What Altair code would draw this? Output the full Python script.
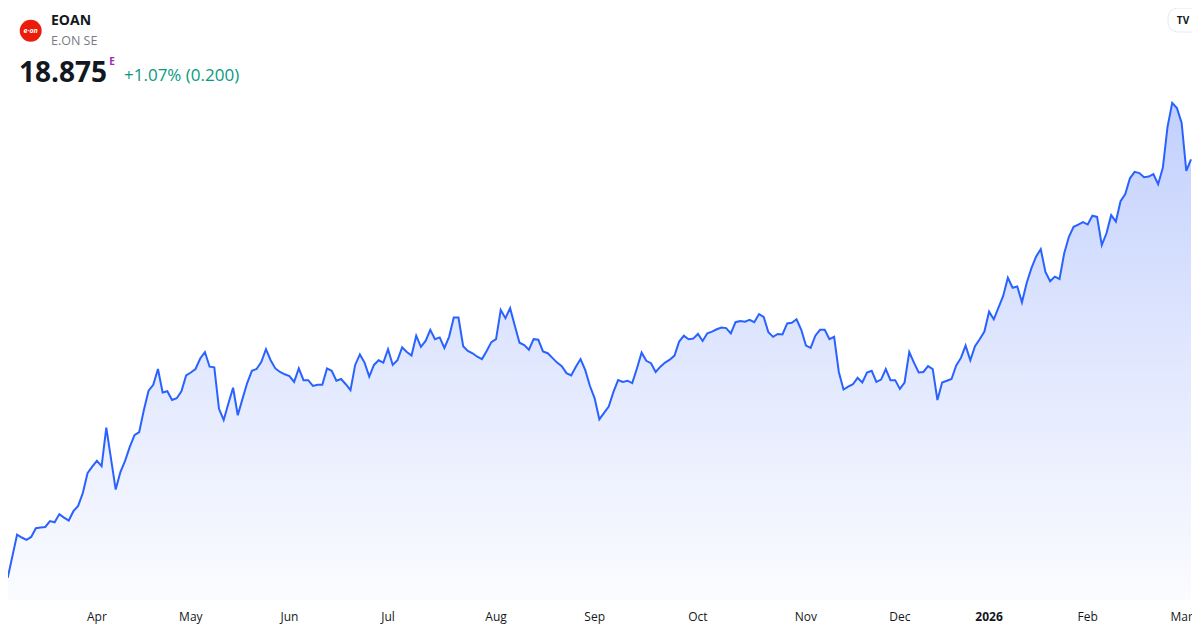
import altair as alt
import pandas as pd

# Daily closes, E.ON SE (EOAN), 4 Mar 2025 .. 4 Mar 2026 (trading-day index)
prices = [
    12.01, 11.72, 12.09, 12.46, 12.41, 12.37, 12.42, 12.57, 12.58, 12.59,
    12.69, 12.67, 12.81, 12.75, 12.70, 12.86, 12.95, 13.17, 13.51, 13.62,
    13.72, 13.63, 14.29, 13.76, 13.23, 13.53, 13.72, 13.96, 14.16, 14.21,
    14.59, 14.92, 15.02, 15.29, 14.89, 14.91, 14.76, 14.79, 14.91, 15.18,
    15.23, 15.29, 15.47, 15.58, 15.33, 15.32, 14.61, 14.42, 14.70, 14.97,
    14.50,
    14.78, 15.05, 15.26, 15.29, 15.41, 15.63, 15.44, 15.30, 15.24, 15.20,
    15.17, 15.07, 15.30, 15.10, 15.10, 15.00, 15.02, 15.02, 15.30, 15.26,
    15.09, 15.12, 15.03, 14.93, 15.36, 15.54, 15.40, 15.16, 15.36, 15.44,
    15.40, 15.63, 15.36, 15.44, 15.66, 15.58, 15.52, 15.86, 15.67, 15.77,
    15.96, 15.80, 15.83, 15.65, 15.84, 16.17, 16.17, 15.68, 15.60, 15.56,
    15.50,
    15.46, 15.60, 15.75, 15.80, 16.30, 16.16, 16.33, 16.03, 15.74, 15.70,
    15.62, 15.80, 15.79, 15.59, 15.56, 15.48, 15.40, 15.34, 15.22, 15.18,
    15.33, 15.46, 15.27, 15.00, 14.79, 14.43, 14.54, 14.65, 14.90, 15.10,
    15.07, 15.09, 15.05, 15.30, 15.57, 15.43, 15.39, 15.24, 15.33, 15.40,
    15.45, 15.52, 15.76, 15.86, 15.80, 15.81, 15.89, 15.77, 15.90, 15.93,
    15.97,
    16.00, 15.99, 15.90, 16.09, 16.11, 16.10, 16.13, 16.09, 16.23, 16.18,
    15.92, 15.84, 15.89, 15.88, 16.07, 16.08, 16.14, 15.96, 15.69, 15.65,
    15.86, 15.96, 15.96, 15.80, 15.84, 15.24, 14.94, 14.99, 15.03, 15.14,
    15.06, 15.23, 15.26, 15.07, 15.11, 15.29, 15.10, 15.10, 14.95, 15.06,
    15.58, 15.40, 15.23, 15.24, 15.34, 15.29, 14.76, 15.06, 15.09, 15.12,
    15.35,
    15.48, 15.69, 15.44, 15.68, 15.80, 15.93, 16.27, 16.14, 16.34, 16.54,
    16.85, 16.68, 16.70, 16.43, 16.76, 17.01, 17.21, 17.34, 16.95, 16.79,
    16.87, 16.83, 17.27, 17.55, 17.72, 17.76, 17.80, 17.76, 17.91, 17.89,
    17.41, 17.61, 17.92, 17.81, 18.16, 18.28, 18.55, 18.66, 18.64, 18.57,
    18.58, 18.62, 18.45, 18.73, 19.43, 19.84, 19.75, 19.50, 18.675, 18.875,
]
day_index = list(range(len(prices)))

# Month ticks (trading-day index of first session of each month)
tick_idx = [20, 40, 61, 82, 105, 126, 148, 171, 191, 210, 231, 251]
tick_labels = ["Apr", "May", "Jun", "Jul", "Aug", "Sep", "Oct", "Nov", "Dec", "2026", "Feb", "Mar"]
tick_bold = [lbl == "2026" for lbl in tick_labels]

symbol = "EOAN"
name = "E.ON SE"
last_price = "18.875"
change_text = "+1.07% (0.200)"

FONT = "Open Sans"
W, H = 1184, 620
Y_LO, Y_HI = 11.342, 21.461

df = pd.DataFrame({"idx": day_index, "price": prices})
ticks = pd.DataFrame({"idx": tick_idx, "label": tick_labels, "bold": tick_bold})

xscale = alt.Scale(domain=[1.065, 253], range=[0, 1183], nice=False, zero=False)
yscale = alt.Scale(domain=[Y_LO, Y_HI], range=[592, 0], nice=False, zero=False)

X = alt.X("idx:Q", scale=xscale, axis=None)
Y = alt.Y("price:Q", scale=yscale, axis=None)

grad = alt.Gradient(
    gradient="linear",
    stops=[
        alt.GradientStop(color="#c2d0fc", offset=0),
        alt.GradientStop(color="#e3e9fe", offset=0.55),
        alt.GradientStop(color="#fbfcff", offset=1),
    ],
    x1=0, x2=0, y1=0, y2=1,
)

base = alt.Chart(df)
area = base.mark_area(clip=True, fill=grad, opacity=1, strokeWidth=0).encode(
    x=X, y=Y, y2=alt.Y2(datum=Y_LO)
)
line = base.mark_line(clip=True, color="#2962ff", strokeWidth=2).encode(x=X, y=Y)

tick_base = alt.Chart(ticks)
tick_norm = tick_base.transform_filter("!datum.bold").mark_text(
    font=FONT, fontSize=12, color="#131722", align="center", baseline="middle"
).encode(x=X, y=alt.value(609), text="label:N")
tick_b = tick_base.transform_filter("datum.bold").mark_text(
    font=FONT, fontSize=12, fontWeight="bold", color="#131722", align="center", baseline="middle"
).encode(x=X, y=alt.value(609), text="label:N")


def label(txt, x, y, **kw):
    return alt.Chart(pd.DataFrame({"t": [txt]})).mark_text(font=FONT, **kw).encode(
        x=alt.value(x), y=alt.value(y), text="t:N"
    )


logo = alt.Chart(pd.DataFrame({"t": [1]})).mark_circle(
    size=480, color="#ea1c0a", opacity=1
).encode(x=alt.value(22.7), y=alt.value(22.7))
logo_txt = label("e·on", 22.7, 23.2, fontSize=7, fontWeight="bold", fontStyle="italic",
                 color="white", align="center", baseline="middle")
sym = label(symbol, 43, 13, fontSize=14, fontWeight="bold", color="#131722",
            align="left", baseline="middle")
nm = label(name, 43, 33, fontSize=12.5, color="#787b86", align="left", baseline="middle")
px = label(last_price, 11, 74, fontSize=28, fontWeight="bold", color="#131722",
           align="left", baseline="alphabetic")
sup = label("E", 104, 53.5, fontSize=10, fontWeight="bold", color="#9c27b0",
            align="center", baseline="middle")
chg = label(change_text, 116, 72.5, fontSize=17, color="#089981", align="left",
            baseline="alphabetic")

tv_box = alt.Chart(pd.DataFrame({"t": [1]})).mark_rect(
    fill="white", stroke="#e6e8ee", strokeWidth=1, cornerRadius=10
).encode(x=alt.value(1160), x2=alt.value(1200), y=alt.value(0), y2=alt.value(24))
tv_txt = label("TV", 1175, 12.5, fontSize=10, fontWeight="bold", color="#131722",
               align="center", baseline="middle")

chart = alt.layer(
    area, line, tick_norm, tick_b, logo, logo_txt, sym, nm, px, sup, chg, tv_box, tv_txt
).properties(
    width=W, height=H, padding=0, background="white",
    autosize=alt.AutoSizeParams(type="none"),
).configure_view(strokeWidth=0)

chart.save("out.html", embed_options={"renderer": "svg", "actions": False})
